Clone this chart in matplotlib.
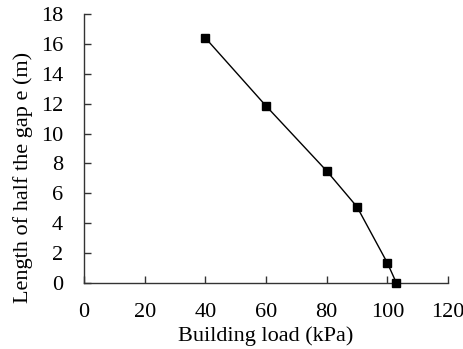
import matplotlib
matplotlib.use("Agg")
import matplotlib.pyplot as plt

building_load = [40, 60, 80, 90, 100, 103]
half_gap = [16.4, 11.85, 7.5, 5.1, 1.35, 0.0]
x_ticks = [0, 20, 40, 60, 80, 100, 120]
y_ticks = [0, 2, 4, 6, 8, 10, 12, 14, 16, 18]

plt.rcParams['font.family'] = ['Liberation Serif', 'DejaVu Serif']

fig = plt.figure(figsize=(4.64, 3.49), dpi=100)
ax = fig.add_axes([0.181, 0.189, 0.7845, 0.771])
ax.plot(building_load, half_gap, color='black', lw=1.0, marker='s',
        markersize=6, markerfacecolor='black', markeredgecolor='black', clip_on=False, zorder=3)
ax.set_xlim(0, 120)
ax.set_ylim(0, 18)
ax.set_xticks(x_ticks)
ax.set_yticks(y_ticks)
ax.spines['top'].set_visible(False)
ax.spines['right'].set_visible(False)
for s in ('left', 'bottom'):
    ax.spines[s].set_linewidth(1.0)
    ax.spines[s].set_color('#333333')
ax.tick_params(direction='in', length=5, width=1.0, labelsize=16, colors='#333333', labelcolor='black')
ax.tick_params(axis='x', pad=14.5)
ax.tick_params(axis='y', pad=15)
ax.set_xlabel('Building load (kPa)', fontsize=16, labelpad=3)
ax.set_ylabel('Length of half the gap e (m)', fontsize=16)
ax.yaxis.set_label_coords(-0.14, 0.392)
fig.savefig('out.png', dpi=100)
